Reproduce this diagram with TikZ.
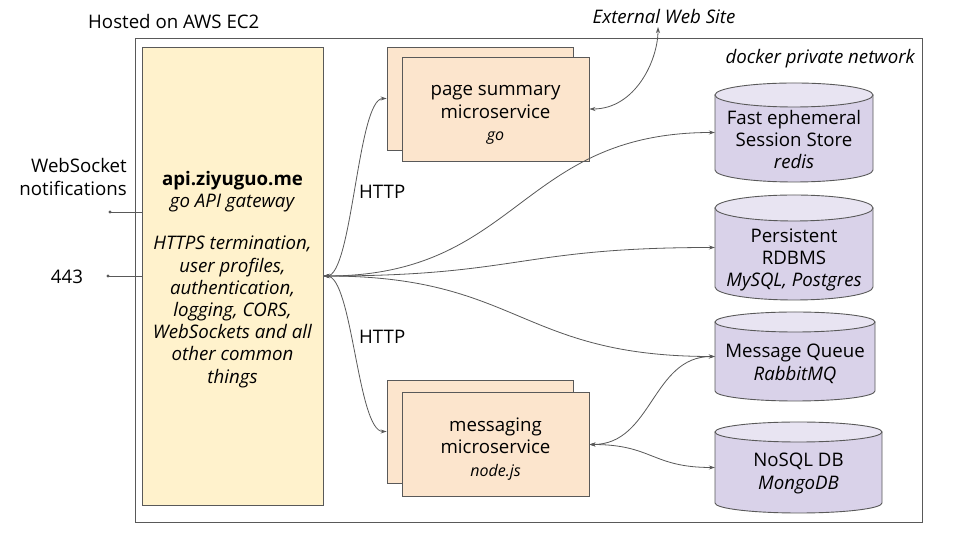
\documentclass[tikz,border=0pt]{standalone}
\usepackage{fontspec}
\setmainfont{Open Sans}
\usetikzlibrary{arrows.meta}
\definecolor{gwfill}{HTML}{FFF2CC}
\definecolor{msfill}{HTML}{FCE5CD}
\definecolor{dbfill}{HTML}{D9D2E9}
\definecolor{dbtop}{HTML}{E8E4F2}
\definecolor{edge}{HTML}{595959}
\newcommand\subl[1]{{\fontsize{16}{19.2}\selectfont\itshape #1}}
\newcommand\dbcyl[5]{%
  \filldraw[fill=dbfill, draw=edge, line width=0.9pt] (#1,#3-#5) -- (#1,#4+#5)
    arc[start angle=180, end angle=360, x radius={(#2-#1)/2}, y radius=#5] -- (#2,#3-#5) -- cycle;
  \filldraw[fill=dbtop, draw=edge, line width=0.9pt] ({(#1+#2)/2},#3-#5) ellipse[x radius={(#2-#1)/2}, y radius=#5];
}
\begin{document}
\begin{tikzpicture}[x=1pt,y=1pt,
  txt/.style={font=\fontsize{18.67}{22.4}\selectfont, inner sep=0pt, align=center, text=black},
  gwtxt/.style={txt, font=\fontsize{18.67}{22.2}\selectfont},
  ittxt/.style={txt, font=\fontsize{18.67}{22.4}\selectfont\itshape},
  line/.style={draw=edge, line width=0.8pt},
  con/.style={draw=edge, line width=0.8pt, {Stealth[length=6pt,width=4pt]}-{Stealth[length=6pt,width=4pt]}},
  frame/.style={draw=edge, line width=0.9pt, inner sep=0pt},
  gwbox/.style={frame, fill=gwfill, minimum width=181pt, minimum height=458pt},
  msback/.style={frame, fill=msfill, minimum width=186pt, minimum height=103pt},
  msfront/.style={frame, fill=msfill, minimum width=187pt, minimum height=104pt},
  dbn/.style={inner sep=0pt}
]
\useasboundingbox (0,0) rectangle (960,540);
\fill[white] (0,0) rectangle (960,540);

% docker private network frame
\node[frame, minimum width=787pt, minimum height=484pt] (dock) at (528.5,260) {};
\node[txt, anchor=base west] (hosted) at (88,511) {Hosted on AWS EC2};
\node[ittxt, anchor=east] (docklabel) at (915,481) {docker private network};
\node[ittxt] (ext) at (664,523) {External Web Site};
\coordinate (extpt) at (658,513);

% gateway
\node[gwbox] (gw) at (232.5,264) {};
\node[gwtxt] (gwt) at (232.5,260.5) {\textbf{api.ziyuguo.me}\\\textit{go API gateway}\\[20pt]\textit{HTTPS termination,}\\\textit{user profiles,}\\\textit{authentication,}\\\textit{logging, CORS,}\\\textit{WebSockets and all}\\\textit{other common}\\\textit{things}};

% microservices
\node[msback] (psback) at (480,441.5) {};
\node[msfront] (ps) at (495.5,431) {};
\node[txt] (pst) at (495.5,425) {page summary\\microservice\\\subl{go}};
\node[msback] (msgback) at (480,108.5) {};
\node[msfront] (msg) at (495.5,95.5) {};
\node[txt] (msgt) at (495.5,91) {messaging\\microservice\\\subl{node.js}};

% databases
\dbcyl{715}{873}{457}{358}{12}
\node[dbn, minimum width=158pt, minimum height=99pt] (redis) at (794,407.5) {};
\node[txt] (redist) at (794,400.5) {Fast ephemeral\\Session Store\\\textit{redis}};

\dbcyl{715}{873}{345}{240}{13}
\node[dbn, minimum width=158pt, minimum height=105pt] (pg) at (794,292.5) {};
\node[txt] (pgt) at (794,280) {Persistent\\RDBMS\\\textit{MySQL, Postgres}};

\dbcyl{715}{875}{228}{139}{10}
\node[dbn, minimum width=160pt, minimum height=89pt] (mq) at (795,183.5) {};
\node[txt] (mqt) at (795,176) {Message Queue\\\textit{RabbitMQ}};

\dbcyl{715}{882}{118}{27}{10}
\node[dbn, minimum width=167pt, minimum height=91pt] (nosql) at (798.5,72.5) {};
\node[txt] (nosqlt) at (798.5,66.5) {NoSQL DB\\\textit{MongoDB}};

% left inputs
\node[txt, align=right, anchor=east] (wslabel) at (127,363) {WebSocket\\notifications};
\coordinate (wsdot) at (110,328);
\fill[edge] (wsdot) circle[radius=1.6];
\draw[line] (wsdot) -- (wsdot -| gw.west);
\node[txt] (p443) at (67,263) {443};
\coordinate (dotp) at (108,264);
\fill[edge] (dotp) circle[radius=1.6];
\draw[line] (dotp) -- (dotp -| gw.west);

% HTTP labels
\node[txt, anchor=west] (http1) at (359,348) {HTTP};
\node[txt, anchor=west] (http2) at (359,203) {HTTP};

% connectors
\draw[con] (gw.east) .. controls +(29,0) and +(-29,0) .. (psback.west);
\draw[con] (gw.east) .. controls +(29,0) and +(-29,0) .. (msgback.west);
\draw[con] (gw.east) .. controls +(196,0) and +(-196,0) .. (redis.west);
\draw[con] (gw.east) .. controls +(196,0) and +(-196,0) .. (pg.west);
\draw[con] (gw.east) .. controls +(196,0) and +(-196,0) .. (mq.west);
\draw[con] (ps.east) .. controls +(46,0) and +(0,-33) .. (extpt);
\draw[con] (msg.east) .. controls +(63,0) and +(-63,0) .. (mq.west);
\draw[con] (msg.east) .. controls +(63,0) and +(-63,0) .. (nosql.west);
\end{tikzpicture}
\end{document}
